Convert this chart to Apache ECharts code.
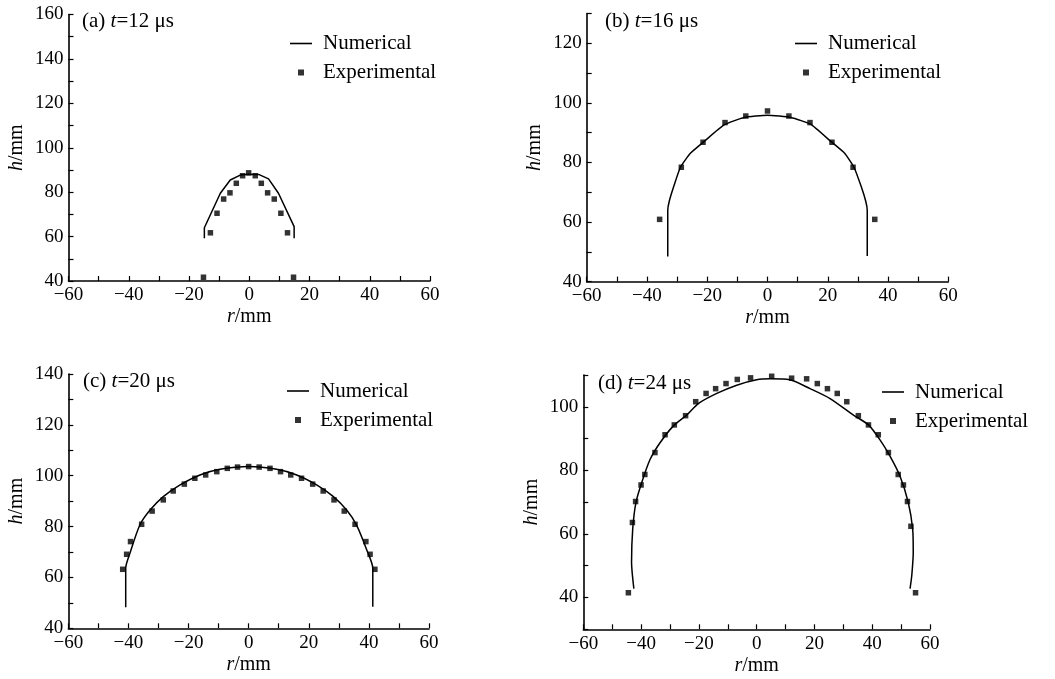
<!DOCTYPE html>
<html>
<head>
<meta charset="utf-8">
<script src="https://cdn.jsdelivr.net/npm/echarts@6/dist/echarts.min.js"></script>
<style>
  html, body { margin: 0; padding: 0; background: #fff; }
  #chart { width: 1055px; height: 679px; }
</style>
</head>
<body>
<div id="chart"></div>
<script>
// (a) t = 12 us
const numA_r = [-14.9, -14.9, -9.6, -6.3, -3.0, 0, 3.1, 6.4, 9.7, 14.9, 14.9];
const numA_h = [59.2, 64.0, 79.5, 85.5, 87.7, 88.1, 88.0, 86.0, 79.5, 64.5, 59.2];
const expA_r = [-15.2, -12.9, -10.7, -8.5, -6.4, -4.3, -2.2, -0.2, 2.0, 4.0, 6.1, 8.3, 10.5, 12.7, 14.7];
const expA_h = [41.7, 61.7, 70.5, 76.9, 79.7, 84.0, 87.4, 88.7, 87.4, 84.0, 79.7, 76.9, 70.5, 61.7, 41.7];

// (b) t = 16 us
const numB_r = [-33.1, -33.1, -32.6, -31.1, -28.9, -25.6, -21.1, -14.4, -7.8, 0, 7.8, 14.4, 21.1, 25.6, 28.7, 31.1, 32.6, 33.1, 33.1];
const numB_h = [48.4, 64.0, 67.0, 72.0, 78.4, 83.1, 87.0, 92.6, 95.1, 95.9, 95.1, 92.8, 87.0, 83.1, 78.4, 71.9, 67.0, 64.0, 48.6];
const expB_r = [-35.8, -28.6, -21.4, -14.1, -7.2, 0, 7.1, 14.1, 21.4, 28.4, 35.6];
const expB_h = [60.9, 78.4, 86.8, 93.4, 95.6, 97.3, 95.6, 93.4, 86.8, 78.4, 60.9];

// (c) t = 20 us
const numC_r = [-40.9, -40.9, -39.5, -36.2, -32.8, -28.4, -22.8, -16.2, -9.5, 0, 9.3, 16.0, 22.6, 28.2, 32.6, 35.9, 39.3, 41.3, 41.3];
const numC_h = [48.3, 63.6, 69.5, 80.6, 86.5, 91.8, 96.4, 100.3, 102.5, 103.6, 102.5, 100.3, 96.4, 91.8, 86.5, 80.6, 70.8, 63.6, 48.5];
const expC_r = [-41.9, -40.6, -39.3, -35.6, -32.1, -28.4, -25.1, -21.4, -17.9, -14.3, -10.6, -7.1, -3.7, 0,
  3.5, 7.1, 10.6, 14.0, 17.6, 21.3, 24.8, 28.4, 31.8, 35.4, 39.0, 40.4, 42.0];
const expC_h = [63.2, 69.1, 74.1, 80.9, 86.1, 90.5, 94.0, 96.7, 99.0, 100.3, 101.6, 102.9, 103.4, 103.6,
  103.4, 102.9, 101.6, 100.3, 99.0, 96.7, 94.0, 90.5, 86.1, 80.9, 74.1, 69.1, 63.2];

// (d) t = 24 us
const numD_r = [-42.5, -43.3, -42.9, -41.8, -39.8, -36.9, -33.5, -28.8, -24.2, -20.2, -13.8, -6.9, 0, 4.6,
  11.5, 18.5, 25.4, 33.5, 38.7, 42.7, 46.2, 49.6, 52.5, 54.0, 54.2, 53.7, 53.1];
const numD_h = [42.8, 51.1, 61.5, 69.8, 76.1, 83.4, 88.6, 94.0, 97.4, 101.0, 104.2, 106.8, 108.5, 108.8,
  108.5, 105.7, 102.6, 97.4, 94.3, 89.6, 84.4, 78.2, 69.8, 61.5, 54.2, 47.0, 42.8];
const expD_r = [-44.4, -43.0, -41.9, -40.0, -38.7, -35.2, -31.7, -28.5, -24.6, -21.1, -17.5, -14.2, -10.6, -6.7, -2.1,
  5.2, 12.1, 17.3, 21.0, 24.5, 27.9, 31.2, 35.2, 38.7, 42.1, 45.6, 49.0, 50.8, 52.2, 53.4, 55.0];
const expD_h = [41.5, 63.6, 70.2, 75.4, 78.7, 85.6, 91.2, 94.3, 97.2, 101.6, 104.2, 105.7, 107.3, 108.6, 109.1,
  109.6, 109.0, 108.8, 107.3, 105.7, 104.2, 101.6, 97.2, 94.3, 91.2, 85.6, 78.7, 75.4, 70.2, 62.4, 41.5];

const panelTitles = ['(a) {i|t}=12 μs', '(b) {i|t}=16 μs', '(c) {i|t}=20 μs', '(d) {i|t}=24 μs'];
const yMin = [40, 40, 40, 30];
const yMax = [160, 130, 140, 110];
const smoothing = [false, 0.15, 0.25, 0.25];

const FONT = "'Liberation Serif', 'Times New Roman', serif";
const FS = 19;
const FS_BIG = 21;

const zip = (xs, ys) => xs.map((x, i) => [x, ys[i]]);
const panels = [
  { num: zip(numA_r, numA_h), exp: zip(expA_r, expA_h) },
  { num: zip(numB_r, numB_h), exp: zip(expB_r, expB_h) },
  { num: zip(numC_r, numC_h), exp: zip(expC_r, expC_h) },
  { num: zip(numD_r, numD_h), exp: zip(expD_r, expD_h) },
];

const grids = [
  { left: 68.5, top: 14.5, width: 361.5, height: 266.5 },
  { left: 586.7, top: 13.6, width: 361.6, height: 268 },
  { left: 68.3, top: 374, width: 360.7, height: 254.3 },
  { left: 583.3, top: 375, width: 346.7, height: 254.3 },
];
const legendPos = [
  { left: 290, top: 33 },
  { left: 795, top: 33 },
  { left: 287, top: 380.5 },
  { left: 882, top: 381.5 },
];
const titlePos = [
  { left: 82, top: 11 },
  { left: 605, top: 11 },
  { left: 83, top: 371 },
  { left: 598, top: 373 },
];

const minus = (v) => String(v).replace('-', '\u2212');
const every20 = (v) => (v % 20 === 0 ? minus(v) : '');

const italicRich = (size) => ({ i: { fontStyle: 'italic', fontFamily: FONT, fontSize: size, color: '#000' } });

const axisCommon = {
  type: 'value',
  interval: 10,
  splitLine: { show: false },
  axisLine: { show: true, onZero: false, lineStyle: { color: '#000', width: 1.6 } },
  axisTick: { show: true, inside: true, length: 5, lineStyle: { color: '#000', width: 1.2 } },
  axisLabel: { color: '#000', fontFamily: FONT, fontSize: FS, formatter: every20, showMinLabel: true, showMaxLabel: true },
  nameLocation: 'middle',
  nameTextStyle: { color: '#000', fontFamily: FONT, fontSize: 20, rich: italicRich(20) },
};

const option = {
  animation: false,
  backgroundColor: '#fff',
  title: panelTitles.map((t, i) => ({
    text: t,
    left: titlePos[i].left,
    top: titlePos[i].top,
    padding: 0,
    textStyle: { color: '#000', fontFamily: FONT, fontSize: FS_BIG, fontWeight: 'normal', rich: italicRich(FS_BIG) },
  })),
  legend: legendPos.map((p) => ({
    orient: 'vertical',
    left: p.left,
    top: p.top,
    padding: 0,
    itemGap: 8,
    itemWidth: 22,
    itemHeight: 6,
    symbolKeepAspect: true,
    data: [
      { name: 'Numerical', icon: 'path://M0,0L22,0L22,1.6L0,1.6Z' },
      { name: 'Experimental', icon: 'path://M0,0L1,0L1,1L0,1Z' },
    ],
    textStyle: { color: '#000', fontFamily: FONT, fontSize: FS_BIG, padding: [0, 0, 0, 6] },
  })),
  grid: grids,
  xAxis: grids.map((g, i) => ({
    ...axisCommon,
    gridIndex: i,
    min: -60,
    max: 60,
    name: '{i|r}/mm',
    nameGap: 26,
    axisLabel: { ...axisCommon.axisLabel, margin: 5 },
  })),
  yAxis: grids.map((g, i) => ({
    ...axisCommon,
    gridIndex: i,
    min: yMin[i],
    max: yMax[i],
    name: '{i|h}/mm',
    nameGap: 42,
    nameRotate: 90,
    axisLabel: { ...axisCommon.axisLabel, margin: 5 },
  })),
  series: panels.flatMap((p, i) => [
    {
      name: 'Numerical',
      type: 'line',
      xAxisIndex: i,
      yAxisIndex: i,
      data: p.num,
      symbol: 'none',
      smooth: smoothing[i],
      lineStyle: { color: '#000', width: 1.5 },
      itemStyle: { color: '#000' },
    },
    {
      name: 'Experimental',
      type: 'scatter',
      xAxisIndex: i,
      yAxisIndex: i,
      data: p.exp,
      symbol: 'rect',
      symbolSize: 5.5,
      itemStyle: { color: '#000' },
    },
  ]),
};

const chart = echarts.init(document.getElementById('chart'));
chart.setOption(option);
</script>
</body>
</html>
